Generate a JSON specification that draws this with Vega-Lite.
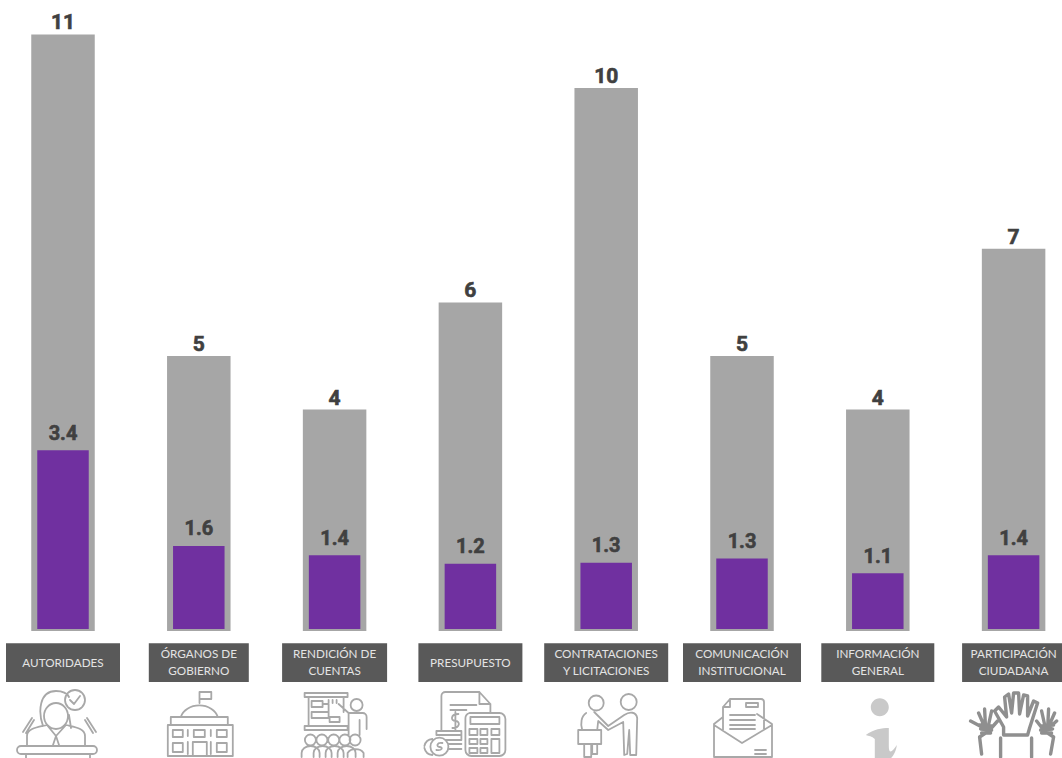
{
"$schema":"https://vega.github.io/schema/vega-lite/v6.json",
"width":1062,"height":758,"autosize":{"type":"none"},"padding":0,"background":"#ffffff",
"config":{"view":{"stroke":null}},
"data":{"values":[
{"categoria":"AUTORIDADES","total":11,"parcial":3.4},
{"categoria":"ÓRGANOS DE\nGOBIERNO","total":5,"parcial":1.58},
{"categoria":"RENDICIÓN DE\nCUENTAS","total":4,"parcial":1.4},
{"categoria":"PRESUPUESTO","total":6,"parcial":1.24},
{"categoria":"CONTRATACIONES\nY LICITACIONES","total":10,"parcial":1.26},
{"categoria":"COMUNICACIÓN\nINSTITUCIONAL","total":5,"parcial":1.34},
{"categoria":"INFORMACIÓN\nGENERAL","total":4,"parcial":1.06},
{"categoria":"PARTICIPACIÓN\nCIUDADANA","total":7,"parcial":1.4}
]},
"encoding":{"x":{"field":"categoria","type":"nominal","sort":null,"axis":null,"scale":{"type":"band","range":[-4.9,1081.5],"paddingInner":0,"paddingOuter":0}}},
"resolve":{"scale":{"y":"independent"}},
"layer":[
{"layer":[
{"mark":{"type":"bar","width":63.5,"color":"#a6a6a6"},
 "encoding":{"y":{"field":"total","type":"quantitative","axis":null,"scale":{"domain":[-2.5,11.6418],"nice":false,"zero":false}},"y2":{"datum":-0.13}}},
{"mark":{"type":"text","font":"Roboto","fontWeight":"bold","fontSize":21,"color":"#404040","stroke":"#404040","strokeWidth":0.6,"baseline":"alphabetic","dy":-5},
 "encoding":{"y":{"field":"total","type":"quantitative"},"text":{"field":"total","type":"quantitative"}}},
{"mark":{"type":"bar","color":"#595959"},
 "encoding":{"y":{"datum":-0.36},"y2":{"datum":-1.08},
 "size":{"field":"categoria","type":"nominal","legend":null,"scale":{"type":"ordinal","domain":["AUTORIDADES","ÓRGANOS DE\nGOBIERNO","RENDICIÓN DE\nCUENTAS","PRESUPUESTO","CONTRATACIONES\nY LICITACIONES","COMUNICACIÓN\nINSTITUCIONAL","INFORMACIÓN\nGENERAL","PARTICIPACIÓN\nCIUDADANA"],"range":[114,100,105,104,124,118,113,103]}}}},
{"transform":[{"filter":"indexof(datum.categoria,'\\n') < 0"}],
 "mark":{"type":"text","font":"Lato","fontSize":11.7,"color":"#e4e4e4","baseline":"middle"},
 "encoding":{"y":{"datum":-0.72},"text":{"field":"categoria","type":"nominal"}}},
{"transform":[{"filter":"indexof(datum.categoria,'\\n') >= 0"}],
 "mark":{"type":"text","font":"Lato","fontSize":11.7,"lineHeight":17,"lineBreak":"\n","color":"#e4e4e4","baseline":"middle"},
 "encoding":{"y":{"datum":-0.56},"text":{"field":"categoria","type":"nominal"}}},
{"transform":[{"filter":"datum.categoria !== 'INFORMACIÓN\\nGENERAL' && datum.categoria !== 'PARTICIPACIÓN\\nCIUDADANA'"}],
 "mark":{"type":"point","filled":false,"size":4,"opacity":1,"stroke":"#a8a8a8","strokeWidth":1.8,"strokeJoin":"round","strokeCap":"round"},
 "encoding":{"y":{"datum":-1.8657},
 "shape":{"field":"categoria","type":"nominal","legend":null,"scale":{"domain":["AUTORIDADES","ÓRGANOS DE\nGOBIERNO","RENDICIÓN DE\nCUENTAS","PRESUPUESTO","CONTRATACIONES\nY LICITACIONES","COMUNICACIÓN\nINSTITUCIONAL"],
 "range":[
"M-19 -8 A12 13 0 1 1 5 -8 A12 13 0 1 1 -19 -8Z M-20 2 C-25 -12 -24 -33 -7 -33 C0 -33 4 -31 6 -27 M6 -9 L8 4 M2 -24 A10 10 0 1 1 22 -24 A10 10 0 1 1 2 -24Z M7 -24 L11 -20 L17 -28 M-36 21 L-36 12 C-36 4 -24 3 -16 1 L-7 12 L3 1 C11 3 22 4 22 12 L22 21 M-7 12 L-10 21 M-7 12 L-4 21 M-42 22 L30 22 A4 4 0 0 1 30 30 L-42 30 A4 4 0 0 1 -42 22Z M-37 30 L-37 36 M27 30 L27 36 M-40 8 L-31 -6 M-37 9 L-29 -4 M24 -6 L33 8 M22 -4 L30 9",
"M0.7 -21 L0.7 -32 L12.5 -32 L12.5 -25 L0.7 -25 M-18 -7 A19 15 0 0 1 19 -7 M-28 -7 L29 -7 L29 1 L-28 1Z M-31 1 L34 1 L34 32 L-31 32Z M-26 6 L-16 6 L-16 13 L-26 13Z M-5 6 L6 6 L6 13 L-5 13Z M18 6 L28 6 L28 13 L18 13Z M-26 19 L-16 19 L-16 28 L-26 28Z M18 19 L28 19 L28 28 L18 28Z M-6 32 L-6 18 L8 18 L8 32 M-11 6 L-11 12 M12 6 L12 12 M-11 18 L-11 30 M12 18 L12 30",
"M-30 -31 L13 -31 L13 -27 L-30 -27Z M-30 2 L13 2 L13 6 L-30 6Z M-26 -27 L-26 2 M9 -27 L9 -12 M-23 -23 L-12 -23 L-12 -17 L-23 -17Z M-23 -12 L-6 -12 L-6 -6 L-23 -6Z M-5 -7 L5 -7 L5 -2 L-5 -2Z M-6 -24 L-6 -21 M-2 -24 L-2 -21 M2 -24 L2 -21 M-12 -20 L-6 -20 L-6 -12 M16 -19 A6 6 0 1 1 28 -19 A6 6 0 1 1 16 -19Z M4 -20 L14 -11 L28 -11 A4 4 0 0 1 32 -7 L32 5 M14 -11 L14 11 M25 -4 L25 11 M-29.7 16 a5.5 5.5 0 1 1 11 0 a5.5 5.5 0 1 1 -11 0Z M-18.2 16 a5.5 5.5 0 1 1 11 0 a5.5 5.5 0 1 1 -11 0Z M-6.4 16 a5.5 5.5 0 1 1 11 0 a5.5 5.5 0 1 1 -11 0Z M4.8 16 a5.5 5.5 0 1 1 11 0 a5.5 5.5 0 1 1 -11 0Z M15 16 a5.5 5.5 0 1 1 11 0 a5.5 5.5 0 1 1 -11 0Z M-33 33 L-33 29 A9 7 0 0 1 -15 29 L-15 33 M-21 33 L-21 29 A9 7 0 0 1 -3 29 L-3 33 M-9 33 L-9 29 A9 7 0 0 1 9 29 L9 33 M3 33 L3 29 A9 7 0 0 1 21 29 L21 33 M13 33 L13 29 A9 7 0 0 1 29 29 L29 33",
"M-29 6 L-29 -28 A4 4 0 0 1 -25 -32 L9 -32 L20 -20 L20 -11 M9 -32 L9 -20 L20 -20 M-20 -19 L6 -19 M-20 -14 L-4 -14 M-12 -10 C-20 -10 -20 -3 -15 -3 C-10 -3 -10 4 -18 4 M-15 -12 L-15 6 M-1 -11 L29 -11 A6 6 0 0 1 35 -5 L35 26 A6 6 0 0 1 29 32 L1 32 A6 6 0 0 1 -5 26 L-5 -5 A6 6 0 0 1 -1 -11Z M0 -7 L29 -7 L29 0 L0 0Z M-1 5 L7 5 L7 11 L-1 11Z M10 5 L17 5 L17 11 L10 11Z M21 5 L29 5 L29 11 L21 11Z M-1 15 L7 15 L7 20 L-1 20Z M10 15 L17 15 L17 20 L10 20Z M21 15 L29 15 L29 29 L21 29Z M-1 24 L7 24 L7 29 L-1 29Z M10 24 L17 24 L17 29 L10 29Z M-34 7 L-9 7 L-9 11 L-34 11Z M-32 11 L-9 11 L-9 16 L-24 16 M-22 20 L-9 20 M-22 25 L-9 25 M-40 22.7 A9 9 0 1 1 -22 22.7 A9 9 0 1 1 -40 22.7Z M-46 22 A9 9 0 0 1 -38 15 M-46 24 A9 9 0 0 0 -38 31 M-28 19 C-34 18 -34 23 -31 23 C-27 23 -28 27 -34 26",
"M-17.5 -21 A7.5 7.5 0 1 1 -2.5 -21 A7.5 7.5 0 1 1 -17.5 -21Z M14.5 -22 A8 8 0 1 1 30.5 -22 A8 8 0 1 1 14.5 -22Z M-20 -11 C-25 -8 -26 0 -24 6 M-12 -12 L2 2 L18 -9 C24 -13 30 -12 31 -6 L30 31 L24 31 L23 6 L21 30 L18 31 L17 -2 L2 6 L-8 -3 L-9 6 M-28 6 L-5 6 L-5 20 L-28 20Z M-22 20 L-22 33 L-15 33 L-15 20 M-14 20 L-14 30 L-9 30 L-9 20",
"M-28 0 L-28 33 L30 33 L30 0 L15 -10 M-28 0 L-19 -7 M-28 1 L0 19 L30 1 M-19 6 L-19 -17 L-12 -25 L19 -25 A3 3 0 0 1 22 -22 L22 5 M-19 -17 L-12 -17 L-12 -25 M4 -21 L16 -21 L16 -17 L4 -17Z M-12 -9 L13 -9 M-12 -4 L13 -4 M-12 1 L13 1 M-12 5 L13 5 M13 26 L24 26 M13 30 L24 30"
]}}}},
{"transform":[{"filter":"datum.categoria === 'INFORMACIÓN\\nGENERAL'"}],
 "mark":{"type":"point","filled":true,"size":4,"opacity":1,"fill":"#c9c9c9","strokeWidth":0,"shape":"M-7 -16.7 A9 9 0 1 1 11 -16.7 A9 9 0 1 1 -7 -16.7Z M-12 11 C-4 5 4 4 11 4 L11 22 C11 30 14 29 19 21 C18 30 13 36 9 36 L-3 36 L-3 15 C-6 12 -9 12 -12 11Z"},
 "encoding":{"y":{"datum":-1.8657}}},
{"transform":[{"filter":"datum.categoria === 'PARTICIPACIÓN\\nCIUDADANA'"}],
 "mark":{"type":"point","filled":false,"size":4,"opacity":1,"stroke":"#8f8f8f","strokeWidth":3.4,"strokeJoin":"round","strokeCap":"round","shape":"M-10 11 L-10 3 L-19 -13 L-15 -17 L-7 -7 L-9 -27 L-5 -30 L-2 -11 L0 -31 L5 -31 L6 -10 L10 -29 L14 -28 L14 -8 L20 -23 L24 -21 L16 4 L14 11 Z M-28 5 L-35 -11 M-28 5 L-29 -15 M-26 5 L-22 -13 M-24 6 L-16 -3 M-28 5 L-43 -3 M-34 1 L-22 2 M-33 5 L-22 6 M-32 9 L-23 9 M-28 9 L-34 13 L-32 30 M-13 14 L-13 33 M34 5 L41 -11 M34 5 L35 -15 M32 5 L28 -13 M30 6 L23 -3 M34 5 L43 -3 M40 1 L27 2 M39 5 L27 6 M38 9 L28 9 M34 9 L40 13 L37 30 M18 14 L18 33"},
 "encoding":{"y":{"datum":-1.8657}}}
]},
{"layer":[
{"mark":{"type":"bar","width":51.5,"color":"#7030a0"},
 "encoding":{"y":{"field":"parcial","type":"quantitative","axis":null,"scale":{"domain":[-2.4525,11.958],"nice":false,"zero":false}},"y2":{"datum":0}}},
{"mark":{"type":"text","font":"Roboto","fontWeight":"bold","fontSize":20,"color":"#404040","stroke":"#404040","strokeWidth":0.6,"baseline":"alphabetic","dy":-10.5},
 "encoding":{"y":{"field":"parcial","type":"quantitative"},"text":{"field":"parcial","type":"quantitative","format":".1f"}}}
]}
]
}
